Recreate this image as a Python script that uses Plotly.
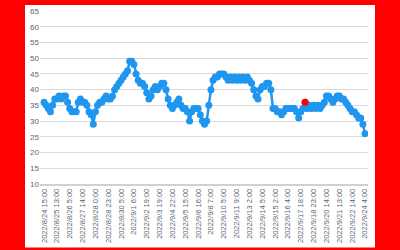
import plotly.graph_objects as go

tick_labels = [
    "2022/8/24 15:00", "2022/8/25 13:00", "2022/8/26 5:00", "2022/8/27 14:00",
    "2022/8/28 0:00", "2022/8/28 23:00", "2022/8/30 5:00", "2022/9/1 6:00",
    "2022/9/2 19:00", "2022/9/3 19:00", "2022/9/4 22:00", "2022/9/5 15:00",
    "2022/9/6 16:00", "2022/9/8 7:00", "2022/9/10 5:00", "2022/9/11 9:00",
    "2022/9/13 2:00", "2022/9/14 5:00", "2022/9/15 2:00", "2022/9/16 4:00",
    "2022/9/17 18:00", "2022/9/18 23:00", "2022/9/20 14:00", "2022/9/21 13:00",
    "2022/9/22 14:00", "2022/9/24 4:00",
]
points_per_label = 6

values = [
    36, 35, 34, 33, 35, 37, 37, 38, 37, 38,
    38, 36, 34, 33, 33, 33, 36, 37, 36, 36,
    35, 33, 32, 29, 33, 35, 36, 36, 37, 38,
    37, 37, 38, 40, 41, 42, 43, 44, 45, 46,
    49, 49, 48, 45, 43, 42, 42, 41, 39, 37,
    38, 40, 41, 40, 41, 42, 42, 40, 37, 35,
    34, 35, 36, 37, 35, 34, 34, 33, 30, 33,
    34, 34, 34, 32, 30, 29, 30, 35, 40, 43,
    44, 44, 45, 45, 45, 44, 43, 44, 43, 44,
    43, 44, 43, 44, 43, 44, 43, 42, 40, 38,
    37, 40, 41, 41, 42, 42, 40, 34, 34, 33,
    33, 32, 33, 34, 34, 34, 34, 34, 33, 31,
    33, 34, 36, 34, 35, 34, 35, 34, 35, 34,
    35, 36, 38, 38, 37, 36, 37, 38, 38, 37,
    37, 36, 35, 34, 33, 33, 32, 31, 31, 29,
    26,
]
highlight_index = 122

x = list(range(len(values)))
tickvals = [i * points_per_label for i in range(len(tick_labels))]

blue = "#1f96ef"
fig = go.Figure()
fig.add_trace(go.Scatter(
    x=x, y=values, mode="lines+markers",
    line=dict(color=blue, width=2.5),
    marker=dict(color=blue, size=7),
    showlegend=False, hoverinfo="skip",
))
fig.add_trace(go.Scatter(
    x=[x[highlight_index]], y=[values[highlight_index]], mode="markers",
    marker=dict(color="#ff0000", size=7),
    showlegend=False, hoverinfo="skip",
))

fig.update_layout(
    width=400, height=250,
    margin=dict(l=40, r=32, t=7, b=66),
    paper_bgcolor="#ff0000",
    plot_bgcolor="#ffffff",
    font=dict(family="Liberation Sans", color="#5a6670"),
    shapes=[dict(
        type="rect", xref="paper", yref="paper",
        x0=-0.0457, x1=1.0213, y0=-0.367, y1=1.034,
        fillcolor="#ffffff", line=dict(width=0), layer="below",
    )],
)
fig.update_xaxes(
    range=[-1.9, 151.4],
    tickvals=tickvals, ticktext=tick_labels, tickangle=-90,
    tickfont=dict(size=7.5, color="#5a6670"),
    showgrid=False, zeroline=False,
    showline=True, linecolor="#d0d0d0", linewidth=1.5,
    ticks="",
)
fig.update_yaxes(
    range=[10, 65], dtick=5, tick0=10,
    tickfont=dict(size=8, color="#5a6670"),
    showgrid=True, gridcolor="#d9d9d9", gridwidth=1,
    zeroline=False, showline=False, ticks="",
)
fig.write_html("out.html")
